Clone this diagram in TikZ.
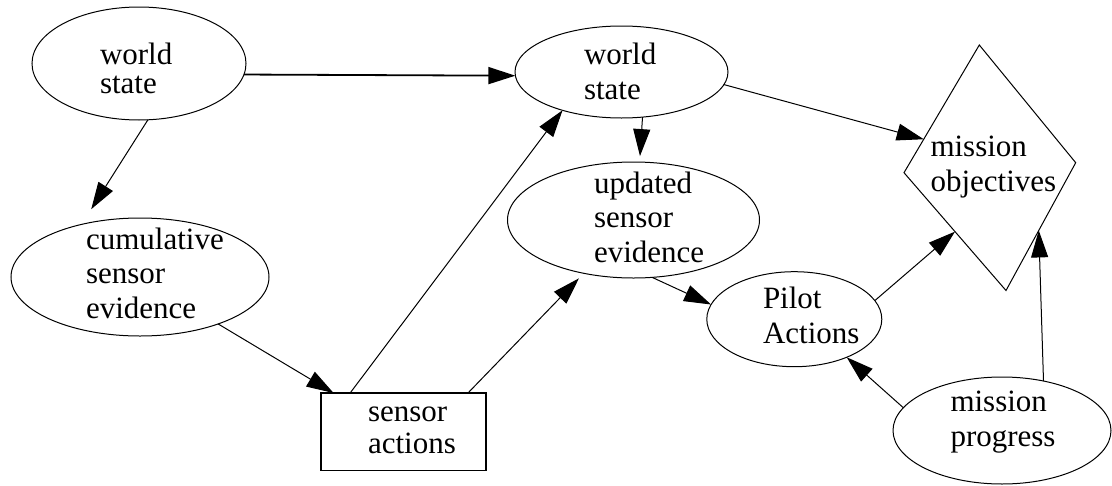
\documentclass[tikz,border=0pt]{standalone}
\usepackage{fontspec}
\setmainfont{Liberation Serif}
\usetikzlibrary{arrows.meta,calc,shapes.geometric}

% multi-line label: first argument is the distance between baselines
\newcommand\stack[2]{{\fontsize{31}{#1}\selectfont\begin{tabular}[t]{@{}l@{}}#2\end{tabular}}}

\begin{document}
\begin{tikzpicture}[x=1pt,y=-1pt,
  shp/.style={draw, line width=1pt, inner sep=0pt, outer sep=0pt},
  oval/.style={shp, ellipse},
  lbl/.style={anchor=base west, inner sep=0pt, outer sep=0pt},
  link/.style={line width=1pt, -{Triangle[length=27pt,width=17pt]}},
  boldlink/.style={link, line width=1.8pt}]
\useasboundingbox (0,0) rectangle (1112,485);

% ellipses
\node[oval, minimum width=214pt, minimum height=113pt] (ws1) at (139,63.5) {};
\node[oval, minimum width=258pt, minimum height=118pt] (cum) at (140,277) {};
\node[oval, minimum width=213pt, minimum height=92pt]  (ws2) at (621.5,72) {};
\node[oval, minimum width=252pt, minimum height=116pt] (upd) at (633.5,220) {};
\node[oval, minimum width=175pt, minimum height=95pt]  (pil) at (794.3,319.2) {};
\node[oval, minimum width=218pt, minimum height=107pt] (mp)  at (1002,430.5) {};

% sensor actions box
\node[shp, rectangle, line width=1.8pt, minimum width=165pt, minimum height=77.5pt] (box) at (403.5,431.75) {};

% mission objectives quadrilateral
\coordinate (moT) at (979.3,45);
\coordinate (moR) at (1075.7,162.7);
\coordinate (moB) at (1006,290.5);
\coordinate (moL) at (904,172.7);
\draw[line width=1pt, line join=miter] (moT) -- (moR) -- (moB) -- (moL) -- cycle;

% labels
\node[lbl] (ws1t) at (100,64)      {\stack{29}{world\\state}};
\node[lbl] (cumt) at (86,249)      {\stack{34.5}{cumulative\\sensor\\evidence}};
\node[lbl] (boxt) at (368,421.7)   {\stack{31.5}{sensor\\actions}};
\node[lbl] (ws2t) at (584,64)      {\stack{35}{world\\state}};
\node[lbl] (updt) at (594,193)     {\stack{34.5}{updated\\sensor\\evidence}};
\node[lbl] (pilt) at (763,308)     {\stack{35}{Pilot\\Actions}};
\node[lbl] (mpt)  at (950.5,411.7) {\stack{35}{mission\\progress}};
\node[lbl] (mot)  at (930.5,156.7) {\stack{35}{mission\\objectives}};

% connectors
\draw[boldlink] (ws1.-6.7) -- (ws2.182);
\draw[link, shorten >=18pt] (ws1.-81.4) -- (cum.138.1);
\draw[link] (cum.-31.8) -- (box.151.9);
\draw[link] (box.144.7) -- (ws2.213.7);
\draw[link, shorten >=7pt] (box.31.6) -- (upd.227.9);
\draw[link, shorten >=6pt] (ws2.-65.3) -- (upd.84.8);
\draw[link] (ws2.-7.4) -- ($(moL)!0.262!(moT)$);
\draw[link] (upd.-72.7) -- (pil.170.9);
\draw[link] (pil.13.5) -- ($(moL)!0.5!(moB)$);
\draw[link] (mp.167.8) -- (pil.-36.8);
\draw[link] (mp.50.2) -- ($(moR)!0.53!(moB)$);
\end{tikzpicture}
\end{document}
